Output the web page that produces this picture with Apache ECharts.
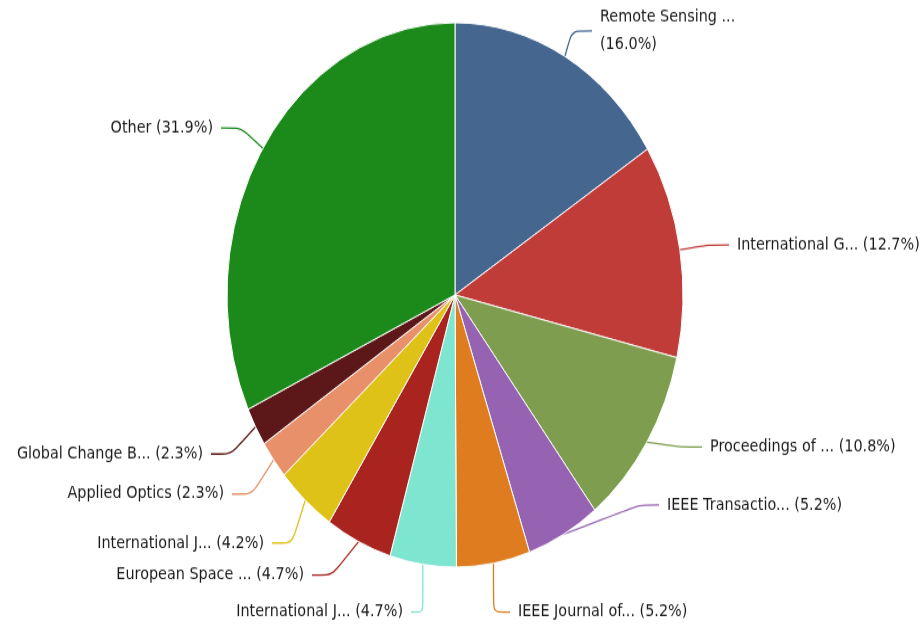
<!DOCTYPE html>
<html lang="en">
  <head>
    <meta charset="UTF-8" />
    <title>journals</title>
    <script src="https://cdn.jsdelivr.net/npm/echarts@6/dist/echarts.min.js"></script>
    <style>
      * {
        margin: 0;
        padding: 0;
      }
      html,
      body {
        background: #fff;
      }
      #wrap {
        width: 922px;
        height: 634px;
        overflow: hidden;
      }
      /* the reference is stretched vertically, so squash the chart then scale it back */
      #charts {
        width: 922px;
        height: 531px;
        transform: scaleY(1.194);
        transform-origin: 0 0;
      }
    </style>
  </head>
  <body>
    <div id="wrap"><div id="charts"></div></div>
    <script>
      var SY = 1.194;
      var GAP = 8;
      var names = [
        "Remote Sensing ...",
        "International G...",
        "Proceedings of ...",
        "IEEE Transactio...",
        "IEEE Journal of...",
        "International J...",
        "European Space ...",
        "International J...",
        "Applied Optics",
        "Global Change B...",
        "Other",
      ];
      var shares = [16.0, 12.7, 10.8, 5.2, 5.2, 4.7, 4.7, 4.2, 2.3, 2.3, 31.9];
      var colors = [
        "#44668f",
        "#c03c38",
        "#7e9d4e",
        "#9563b2",
        "#e07c20",
        "#7ee5d0",
        "#a9241e",
        "#dfc218",
        "#e8906a",
        "#5c1718",
        "#1b8a1b",
      ];
      // where each label's text sits on the page: [x, y, align]
      var labelAnchors = [
        [600, 31, "left"],
        [737, 245, "left"],
        [710, 447, "left"],
        [667, 505, "left"],
        [518, 612, "left"],
        [403, 612, "right"],
        [304, 575, "right"],
        [264, 543, "right"],
        [224, 494, "right"],
        [203, 454, "right"],
        [213, 128, "right"],
      ];

      var pieData = names.map(function (n, i) {
        return { name: n, value: shares[i], itemStyle: { color: colors[i] } };
      });

      var myEcharts = echarts.init(document.getElementById("charts"));
      myEcharts.setOption({
        animation: false,
        series: [
          {
            type: "pie",
            center: [455, 247],
            radius: 228,
            startAngle: 90,
            clockwise: true,
            data: pieData,
            itemStyle: { borderColor: "#fff", borderWidth: 1 },
            label: {
              color: "#1a1a1a",
              fontFamily: "DejaVu Sans",
              fontSize: 14.4,
              padding: [0, GAP],
              overflow: "none",
              formatter: function (p) {
                if (p.dataIndex === 0) return p.name + "\n(" + p.value.toFixed(1) + "%)";
                return p.name + " (" + p.value.toFixed(1) + "%)";
              },
              lineHeight: 22.6,
            },
            labelLine: {
              length: 20,
              length2: 20,
              smooth: 0.2,
              lineStyle: { width: 1.3 },
            },
            labelLayout: function (p) {
              var a = labelAnchors[p.dataIndex];
              var x = a[2] === "left" ? a[0] - GAP : a[0] + GAP;
              return { x: x, y: a[1] / SY, align: a[2], verticalAlign: "middle" };
            },
          },
        ],
      });
    </script>
  </body>
</html>
